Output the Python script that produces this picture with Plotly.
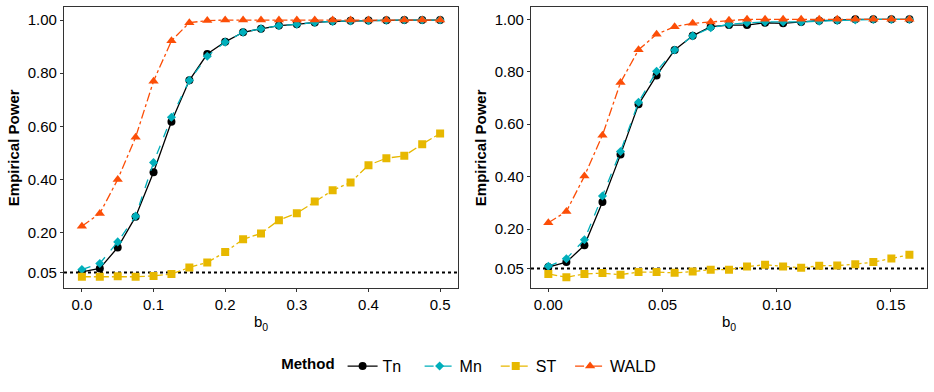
import plotly.graph_objects as go

# ---- data ----
b0_left = [0.0, 0.025, 0.05, 0.075, 0.1, 0.125, 0.15, 0.175, 0.2, 0.225, 0.25,
           0.275, 0.3, 0.325, 0.35, 0.375, 0.4, 0.425, 0.45, 0.475, 0.5]
tn_left = [0.052, 0.065, 0.144, 0.260, 0.427, 0.617, 0.773, 0.872, 0.918, 0.954, 0.967,
           0.979, 0.984, 0.991, 0.995, 0.997, 0.998, 0.999, 1.0, 1.0, 1.0]
mn_left = [0.061, 0.084, 0.165, 0.262, 0.464, 0.634, 0.773, 0.864, 0.917, 0.954, 0.967,
           0.979, 0.984, 0.991, 0.995, 0.997, 0.998, 0.999, 1.0, 1.0, 1.0]
st_left = [0.034, 0.034, 0.036, 0.034, 0.037, 0.044, 0.069, 0.088, 0.127, 0.175, 0.197,
           0.247, 0.273, 0.317, 0.359, 0.389, 0.454, 0.480, 0.489, 0.533, 0.573]
wald_left = [0.224, 0.272, 0.400, 0.559, 0.770, 0.922, 0.990, 0.998, 1.0, 1.0, 1.0,
             1.0, 1.0, 1.0, 1.0, 1.0, 1.0, 1.0, 1.0, 1.0, 1.0]

b0_right = [0.0, 0.0079, 0.0158, 0.0237, 0.0316, 0.0395, 0.0474, 0.0553, 0.0632, 0.0711, 0.0791,
            0.0870, 0.0949, 0.1028, 0.1107, 0.1186, 0.1265, 0.1344, 0.1423, 0.1502, 0.1581]
tn_right = [0.055, 0.074, 0.138, 0.303, 0.484, 0.676, 0.786, 0.883, 0.937, 0.972, 0.978,
            0.978, 0.987, 0.985, 0.990, 0.995, 0.997, 1.0, 1.0, 1.0, 1.0]
mn_right = [0.058, 0.087, 0.159, 0.326, 0.496, 0.684, 0.802, 0.883, 0.937, 0.968, 0.981,
            0.987, 0.990, 0.990, 0.990, 0.993, 0.996, 0.998, 1.0, 1.0, 1.0]
st_right = [0.029, 0.016, 0.029, 0.032, 0.026, 0.036, 0.036, 0.033, 0.038, 0.045, 0.045,
            0.057, 0.064, 0.057, 0.052, 0.060, 0.061, 0.066, 0.074, 0.088, 0.102]
wald_right = [0.224, 0.267, 0.402, 0.558, 0.759, 0.884, 0.943, 0.972, 0.985, 0.990, 0.997,
              1.0, 1.0, 1.0, 1.0, 1.0, 1.0, 1.0, 1.0, 1.0, 1.0]

methods = ["Tn", "Mn", "ST", "WALD"]
nominal_level = 0.05
y_ticks = [0.05, 0.20, 0.40, 0.60, 0.80, 1.00]
y_tick_text = ["0.05", "0.20", "0.40", "0.60", "0.80", "1.00"]
x_ticks_left = [0.0, 0.1, 0.2, 0.3, 0.4, 0.5]
x_tick_text_left = ["0.0", "0.1", "0.2", "0.3", "0.4", "0.5"]
x_ticks_right = [0.0, 0.05, 0.10, 0.15]
x_tick_text_right = ["0.00", "0.05", "0.10", "0.15"]

# ---- styles ----
colors = {"Tn": "#000000", "Mn": "#00AFBB", "ST": "#E7B800", "WALD": "#FC4E07"}
dashes = {"Tn": "solid", "Mn": "dash", "ST": "dashdot", "WALD": "dashdot"}
symbols = {"Tn": "circle", "Mn": "diamond", "ST": "square", "WALD": "triangle-up"}
msize = {"Tn": 8, "Mn": 7, "ST": 8, "WALD": 9}
NB = "\u00a0"
legend_pad = {"Tn": NB * 3, "Mn": NB * 2, "ST": NB * 2, "WALD": ""}

FONT = "Liberation Sans, Arial, sans-serif"
fig = go.Figure()

panels = [
    ("x", "y", b0_left, {"Tn": tn_left, "Mn": mn_left, "ST": st_left, "WALD": wald_left}, True),
    ("x2", "y2", b0_right, {"Tn": tn_right, "Mn": mn_right, "ST": st_right, "WALD": wald_right}, False),
]
for xa, ya, xs, series, show in panels:
    for m in methods:
        fig.add_trace(go.Scatter(
            x=xs, y=series[m], mode="lines+markers", name=m + legend_pad[m],
            xaxis=xa, yaxis=ya, showlegend=show, legendgroup=m,
            line=dict(color=colors[m], dash=dashes[m], width=1.3),
            marker=dict(color=colors[m], symbol=symbols[m], size=msize[m]),
        ))

for xr, yr in [("x", "y"), ("x2", "y2")]:
    fig.add_shape(type="line", xref=f"{xr} domain", yref=yr, x0=0, x1=1,
                  y0=nominal_level, y1=nominal_level,
                  line=dict(color="black", dash="dot", width=2), layer="below")

axis_common = dict(showline=True, mirror=True, linecolor="#333333", linewidth=1.3,
                   ticks="outside", ticklen=3, tickcolor="#333333", tickwidth=1,
                   showgrid=False, zeroline=False, automargin=False,
                   tickfont=dict(family=FONT, size=15, color="black"))

fig.update_layout(
    width=934, height=392,
    margin=dict(l=0, r=0, t=0, b=0),
    plot_bgcolor="white", paper_bgcolor="white",
    font=dict(family=FONT, size=15, color="black"),
    xaxis=dict(domain=[0.0685, 0.4904], range=[-0.025, 0.525],
               tickvals=x_ticks_left, ticktext=x_tick_text_left,
               title=dict(text="b<sub>0</sub>", font=dict(size=15), standoff=4), **axis_common),
    yaxis=dict(domain=[0.2645, 0.9814], range=[-0.0096, 1.048],
               tickvals=y_ticks, ticktext=y_tick_text,
               title=dict(text="<b>Empirical Power</b>", font=dict(size=15), standoff=4), **axis_common),
    xaxis2=dict(domain=[0.5685, 0.9925], range=[-0.0076, 0.1658], anchor="y2",
                tickvals=x_ticks_right, ticktext=x_tick_text_right,
                title=dict(text="b<sub>0</sub>", font=dict(size=15), standoff=4), **axis_common),
    yaxis2=dict(domain=[0.2645, 0.9814], range=[-0.026, 1.046], anchor="x2",
                tickvals=y_ticks, ticktext=y_tick_text,
                title=dict(text="<b>Empirical Power</b>", font=dict(size=15), standoff=4), **axis_common),
    legend=dict(orientation="h", x=0.5035, xanchor="center", y=0.066, yanchor="middle",
                title=dict(text="<b>Method</b>", font=dict(size=15)),
                font=dict(size=16), itemwidth=30),
)

fig.write_html("out.html", config={"displayModeBar": False},
               post_script="document.body.style.margin='0';")
